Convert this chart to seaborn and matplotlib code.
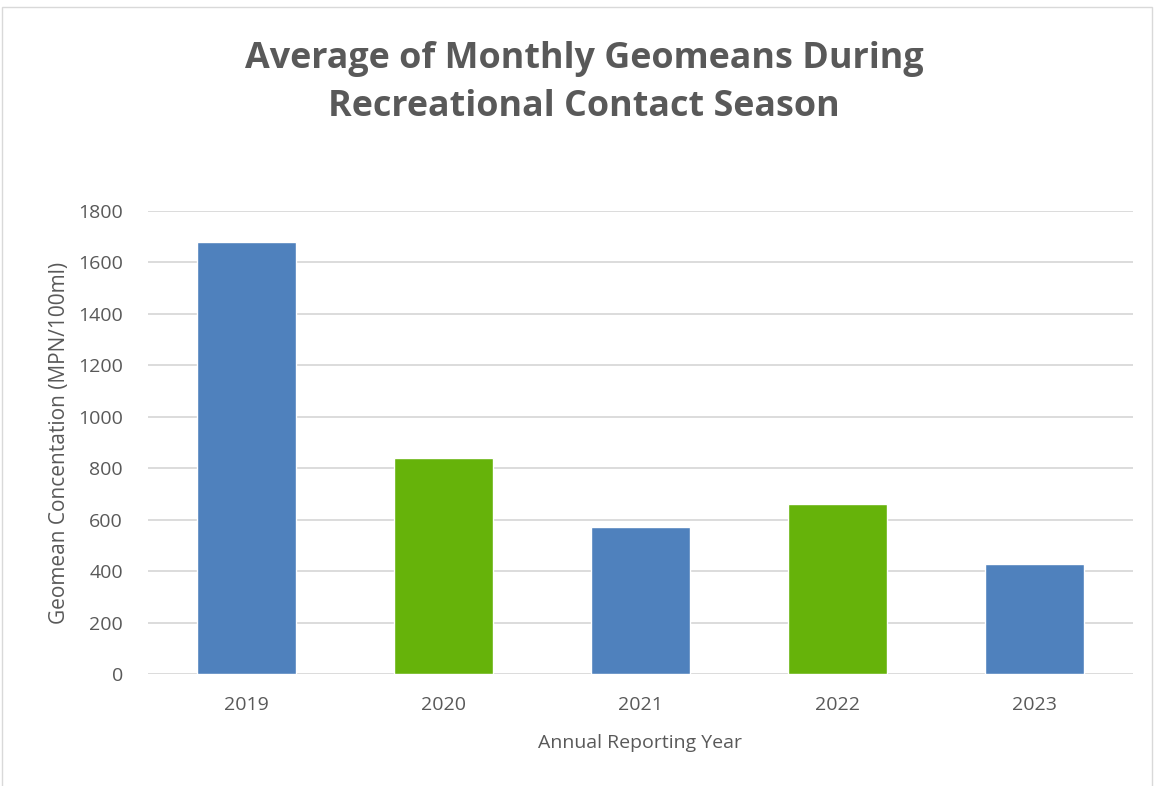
import numpy as np
import pandas as pd
import seaborn as sns
import matplotlib.pyplot as plt
from matplotlib.patches import Rectangle

years = ["2019", "2020", "2021", "2022", "2023"]
geomeans = [1680, 838, 573, 662, 426]
bar_colors = ["#4F81BD", "#66B30A", "#4F81BD", "#66B30A", "#4F81BD"]
y_ticks = [0, 200, 400, 600, 800, 1000, 1200, 1400, 1600, 1800]

df = pd.DataFrame({"year": years, "value": geomeans})

sns.set_theme(style="white")
plt.rcParams["font.family"] = ["Open Sans", "DejaVu Sans"]
text_color = "#595959"

fig = plt.figure(figsize=(11.56, 7.86), dpi=100)
ax = fig.add_axes([148 / 1156, 1 - 674 / 786, (1133 - 148) / 1156, (674 - 211) / 786])

sns.barplot(data=df, x="year", y="value", hue="year", palette=bar_colors,
            width=0.5, saturation=1, legend=False, ax=ax, zorder=3)

ax.set_ylim(0, 1800)
ax.set_xlim(-0.5, 4.5)
ax.set_yticks(y_ticks)
ax.yaxis.grid(True, color="#D9D9D9", linewidth=1.3, zorder=0)
ax.set_axisbelow(True)
for s in ax.spines.values():
    s.set_visible(False)
ax.tick_params(axis="both", length=0, labelsize=14, labelcolor=text_color)
ax.tick_params(axis="x", pad=16)
ax.tick_params(axis="y", pad=18)

ax.set_xlabel("Annual Reporting Year", fontsize=14, color=text_color, labelpad=14)
ax.set_ylabel("Geomean Concentation (MPN/100ml)", fontsize=15, color=text_color, labelpad=6)

fig.text(584 / 1156, 1 - 83 / 786, "Average of Monthly Geomeans During\nRecreational Contact Season",
         ha="center", va="center", fontsize=25.8, fontweight="bold", color=text_color,
         linespacing=1.42)

# chart frame
fig.patches.append(Rectangle((2 / 1156, -0.01), 1150 / 1156, 1 - 7 / 786 + 0.01,
                             transform=fig.transFigure, fill=False,
                             edgecolor="#D9D9D9", linewidth=1))

fig.savefig("out.png", dpi=100)
